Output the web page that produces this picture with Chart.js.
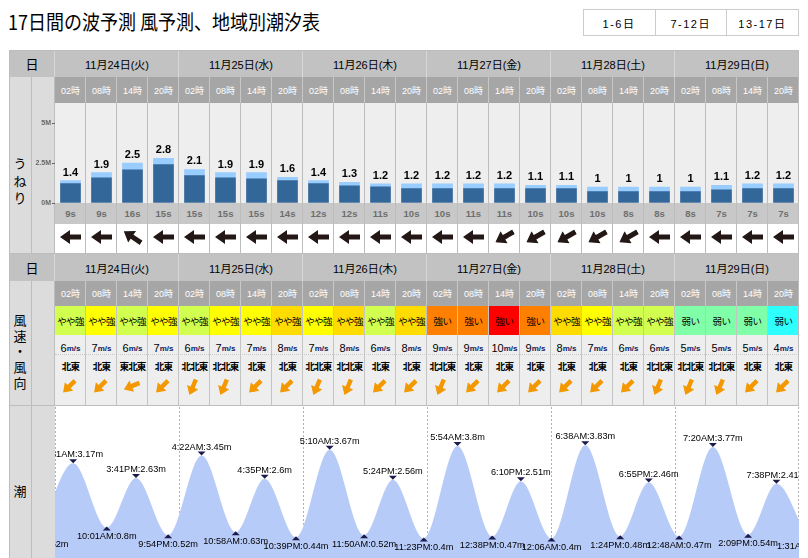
<!DOCTYPE html>
<html>
<head>
<meta charset="utf-8">
<script src="https://cdn.jsdelivr.net/npm/chart.js@4.4.0/dist/chart.umd.min.js"></script>
<style>
body { margin: 0; background: #fff; }
#page { position: relative; width: 808px; height: 558px; overflow: hidden; font-family: "Liberation Sans", "Noto Sans CJK JP", sans-serif; color: #000; }
.a { position: absolute; box-sizing: border-box; }
.c { display: flex; align-items: center; justify-content: center; white-space: nowrap; }
canvas { position: absolute; }
</style>
</head>
<body>
<div id="page">
  <canvas id="wave" width="768" height="112" style="left:31px;top:98px;width:768px;height:112px;z-index:3"></canvas>
  <canvas id="tide" width="744" height="151" style="left:55px;top:407px;width:744px;height:151px;z-index:3"></canvas>
</div>
<script>
// --- data ---
const dayLabels = ['11月24日(火)', '11月25日(水)', '11月26日(木)', '11月27日(金)', '11月28日(土)', '11月29日(日)'];
const hourLabels = ['02時', '08時', '14時', '20時'];
const tabLabels = ['1-6日', '7-12日', '13-17日'];

// うねり (m): total height and the darker (swell) part
const waveHeight = [1.4, 1.9, 2.5, 2.8, 2.1, 1.9, 1.9, 1.6, 1.4, 1.3, 1.2, 1.2, 1.2, 1.2, 1.2, 1.1, 1.1, 1, 1, 1, 1, 1.1, 1.2, 1.2];
const swellPart = [1.21, 1.58, 2.08, 2.4, 1.71, 1.58, 1.52, 1.4, 1.21, 1.08, 1.02, 0.9, 0.9, 0.9, 0.9, 0.9, 0.9, 0.71, 0.71, 0.71, 0.71, 0.83, 0.9, 0.9];
const wavePeriod = [9, 9, 16, 15, 15, 15, 15, 14, 12, 12, 11, 10, 10, 11, 11, 10, 10, 10, 8, 8, 8, 7, 7, 7];
// direction the swell comes from (degrees, 0 = north)
const swellFrom = [90, 90, 124, 90, 90, 90, 90, 90, 90, 90, 90, 90, 90, 90, 60, 60, 60, 60, 60, 90, 90, 90, 90, 90];
const waveTicks = [0, 2.5, 5];

// 風
const windLevel = ['やや強', 'やや強', 'やや強', 'やや強', 'やや強', 'やや強', 'やや強', 'やや強', 'やや強', 'やや強', 'やや強', 'やや強',
                   '強い', '強い', '強い', '強い', 'やや強', 'やや強', 'やや強', 'やや強', '弱い', '弱い', '弱い', '弱い'];
const windSpeed = [6, 7, 6, 7, 6, 7, 7, 8, 7, 8, 6, 8, 9, 9, 10, 9, 8, 7, 6, 6, 5, 5, 5, 4];
const windDir = ['北東', '北東', '東北東', '北東', '北北東', '北北東', '北東', '北東', '北北東', '北北東', '北東', '北東',
                 '北北東', '北東', '北東', '北東', '北東', '北東', '北東', '北北東', '北北東', '北北東', '北東', '北東'];

// 潮汐: day offset from 11/24, clock time, level (m)
const tideDay = [-1, 0, 0, 0, 0, 1, 1, 1, 1, 2, 2, 2, 2, 3, 3, 3, 4, 4, 4, 4, 5, 5, 5, 5, 6];
const tideClock = ['8:50PM', '3:31AM', '10:01AM', '3:41PM', '9:54PM', '4:22AM', '10:58AM', '4:35PM', '10:39PM', '5:10AM', '11:50AM', '5:24PM', '11:23PM',
                   '5:54AM', '12:38PM', '6:10PM', '12:06AM', '6:38AM', '1:24PM', '6:55PM', '12:48AM', '7:20AM', '2:09PM', '7:38PM', '1:31AM'];
const tideLevel = [0.52, 3.17, 0.8, 2.63, 0.52, 3.45, 0.63, 2.6, 0.44, 3.67, 0.52, 2.56, 0.4, 3.8, 0.47, 2.51, 0.4, 3.83, 0.48, 2.46, 0.47, 3.77, 0.54, 2.41, 0.45];

// --- styles ---
const speedColor = {4: '#2effff', 5: '#80ffa8', 6: '#d2ff4f', 7: '#ffff00', 8: '#ffdc00', 9: '#ff8000', 10: '#ff0000'};
const dirDeg = {'北北東': 22.5, '北東': 45, '東北東': 67.5};
const LINE = '#bdbdbd';
const XD = 55, CW = 31, N = 24;
const XE = XD + N * CW;

const page = document.getElementById('page');

let box = function (x, y, w, h, css, html) {
    let d = document.createElement('div');
    d.className = 'a';
    d.style.cssText = 'left:' + x + 'px;top:' + y + 'px;width:' + w + 'px;height:' + h + 'px;' + (css || '');
    if (html !== undefined) d.innerHTML = html;
    page.appendChild(d);
    return d;
}

let arrow = function (cx, cy, rot, color, w, h, pts) {
    let d = box(cx - w / 2, cy - h / 2, w, h, 'transform:rotate(' + rot + 'deg)');
    d.innerHTML = '<svg width="' + w + '" height="' + h + '"><polygon points="' + pts + '" fill="' + color + '"/></svg>';
}

let slots = [];
dayLabels.forEach(d => hourLabels.forEach(h => slots.push(d + ' ' + h)));

// title + tabs
box(8, 6, 420, 30, 'font-size:18px;line-height:30px;font-family:"Noto Sans CJK JP";white-space:nowrap;transform:scaleY(1.12);transform-origin:0 50%', '17日間の波予測 風予測、地域別潮汐表');
box(583, 9, 216, 27, 'border:1px solid #cccccc');
tabLabels.forEach((t, i) => {
    let x = 583 + i * 71.7;
    box(x, 9, 72, 27, 'font-size:11px;letter-spacing:1.5px', t).classList.add('c');
    if (i > 0) box(x, 9, 1, 27, 'background:#cccccc');
});

let headerRow = function (y, h) {
    box(9, y, XE - 9, h, 'background:#c2c2c2');
    box(9, y, XD - 9, h, 'font-size:13px;font-family:"Noto Sans CJK JP"', '日').classList.add('c');
    dayLabels.forEach((d, i) => {
        box(XD + i * CW * 4, y, CW * 4, h, 'font-size:11px', d).classList.add('c');
        box(XD + i * CW * 4 - 1, y, 1, h, 'background:#d8d8d8');
    });
}

let hourRow = function (y, h) {
    box(XD, y, XE - XD, h, 'background:#a6a6a6');
    slots.forEach((s, i) => {
        box(XD + i * CW, y, CW, h, 'font-size:9px;color:#fff', hourLabels[i % 4]).classList.add('c');
        if (i > 0) box(XD + i * CW - 1, y, 1, h, 'background:#c8c8c8');
    });
}

// ---- うねり block ----
headerRow(50, 27);
box(9, 77, XD - 9, 176, 'background:#dcdcdc');
hourRow(77, 26);
box(XD, 103, XE - XD, 100, 'background:#eeeeee');
box(XD, 203, XE - XD, 21, 'background:#c8c8c8');
wavePeriod.forEach((p, i) => {
    box(XD + i * CW, 203, CW, 21, 'font-size:9.5px;font-weight:bold;color:#6e6e6e', p + 's').classList.add('c');
    let rot = swellFrom[i] + 90;
    arrow(XD + i * CW + 15, 237, rot, '#231815', 21, 14, '0,4.5 11,4.5 11,0 21,7 11,14 11,9.5 0,9.5');
});
for (let i = 1; i < N; i++) box(XD + i * CW - 1, 103, 1, 150, 'background:' + LINE);
box(31, 77, 1, 176, 'background:' + LINE);
box(54, 77, 1, 176, 'background:' + LINE);
box(9, 154, 22, 53, 'font-size:13px;line-height:17.5px;text-align:center;font-family:"Noto Sans CJK JP"', 'う<br>ね<br>り');
box(9, 253, XE - 9, 1, 'background:' + LINE);

// ---- 風 block ----
headerRow(254, 27);
box(9, 281, XD - 9, 124, 'background:#dcdcdc');
hourRow(281, 25);
box(XD, 335, XE - XD, 70, 'background:#eeeeee');
box(XD, 354, XE - XD, 1, 'border-top:1px dotted #c8c8c8');
windSpeed.forEach((v, i) => {
    let x = XD + i * CW;
    box(x, 306, CW, 29, 'background:' + speedColor[v] + ';font-size:9.5px;letter-spacing:-0.6px;font-family:"Noto Sans CJK JP"', windLevel[i]).classList.add('c');
    box(x, 339, CW, 18, 'font-size:11px', v + '<span style="font-size:8px;font-weight:bold;color:#102060">m/s</span>').classList.add('c');
    box(x, 357, CW, 18, 'font-size:9.5px;font-weight:bold;letter-spacing:-0.8px;font-family:"Noto Sans CJK JP"', windDir[i]).classList.add('c');
    arrow(x + 15, 388, dirDeg[windDir[i]] + 90, '#f39800', 17, 12, '0,3.8 8.5,3.8 8.5,0 17,6 8.5,12 8.5,8.2 0,8.2');
});
for (let i = 1; i < N; i++) box(XD + i * CW - 1, 306, 1, 99, 'background:#c4c4c4');
box(31, 281, 1, 124, 'background:' + LINE);
box(54, 281, 1, 124, 'background:' + LINE);
box(9, 312, 22, 79, 'font-size:13px;line-height:15.7px;text-align:center;font-family:"Noto Sans CJK JP"', '風<br>速<br>・<br>風<br>向');
box(9, 405, XE - 9, 1, 'background:' + LINE);

// ---- 潮 block ----
box(9, 406, XD - 9, 152, 'background:#dcdcdc');
box(31, 406, 1, 152, 'background:' + LINE);
box(9, 482, 22, 18, 'font-size:13px;line-height:18px;text-align:center;font-family:"Noto Sans CJK JP"', '潮');

// outer frame
box(9, 50, XE - 9, 1, 'background:' + LINE);
box(9, 50, 1, 508, 'background:' + LINE);
box(XE - 1, 50, 1, 356, 'background:' + LINE);

// ---- wave chart ----
const barLabels = {
    id: 'barLabels',
    afterDatasetsDraw(chart) {
        const ctx = chart.ctx;
        const meta = chart.getDatasetMeta(1);
        ctx.save();
        ctx.font = 'bold 11px "Liberation Sans"';
        ctx.textAlign = 'center';
        ctx.fillStyle = '#000';
        meta.data.forEach((bar, i) => {
            ctx.fillText(String(waveHeight[i]), bar.x, bar.y - 5);
        });
        ctx.restore();
    }
};

new Chart(document.getElementById('wave'), {
    type: 'bar',
    data: {
        labels: slots,
        datasets: [
            {data: swellPart, backgroundColor: '#336699', barThickness: 20},
            {data: waveHeight.map((v, i) => +(v - swellPart[i]).toFixed(2)), backgroundColor: '#99ccff', barThickness: 20}
        ]
    },
    options: {
        responsive: false,
        animation: false,
        layout: {padding: {top: 5, bottom: 7, left: 0, right: 0}},
        plugins: {legend: {display: false}, tooltip: {enabled: false}},
        scales: {
            x: {stacked: true, display: false},
            y: {
                stacked: true,
                min: 0,
                max: 6.25,
                afterFit: s => { s.width = 24; },
                afterBuildTicks: s => { s.ticks = waveTicks.map(v => ({value: v})); },
                ticks: {callback: v => v + 'M', color: '#666', padding: 1, font: {size: 7, weight: 'bold', family: 'Liberation Sans'}},
                grid: {drawOnChartArea: false, tickLength: 3, color: '#666'},
                border: {display: false}
            }
        }
    },
    plugins: [barLabels]
});

// ---- tide chart ----
let clockToHours = function (s) {
    let m = s.match(/(\d+):(\d+)(AM|PM)/);
    let h = parseInt(m[1]) % 12 + (m[3] === 'PM' ? 12 : 0);
    return h + parseInt(m[2]) / 60;
}
const tideHours = tideClock.map((c, i) => tideDay[i] * 24 + clockToHours(c));

let isHigh = function (i) {
    let prev = i > 0 ? tideLevel[i - 1] : -Infinity;
    let next = i < tideLevel.length - 1 ? tideLevel[i + 1] : -Infinity;
    return tideLevel[i] > prev && tideLevel[i] > next || (i === 0 && tideLevel[i] > next) || (i === tideLevel.length - 1 && tideLevel[i] > prev);
}

const tideMarks = {
    id: 'tideMarks',
    beforeDatasetsDraw(chart) {
        const {ctx, chartArea: a, scales: {x}} = chart;
        ctx.save();
        ctx.strokeStyle = '#b0b0b0';
        ctx.lineWidth = 1;
        ctx.setLineDash([2, 2]);
        for (let d = 0; d <= dayLabels.length; d++) {
            let px = Math.min(Math.round(x.getPixelForValue(d * 24)), a.right - 1) + 0.5;
            ctx.beginPath();
            ctx.moveTo(px, a.top);
            ctx.lineTo(px, a.bottom);
            ctx.stroke();
        }
        ctx.restore();
    },
    afterDatasetsDraw(chart) {
        const {ctx, chartArea: a, scales: {x, y}} = chart;
        ctx.save();
        ctx.beginPath();
        ctx.rect(a.left, a.top, a.right - a.left, a.bottom - a.top);
        ctx.clip();
        ctx.font = '9.2px "Liberation Sans"';
        ctx.textAlign = 'center';
        ctx.textBaseline = 'middle';
        tideHours.forEach((t, i) => {
            let px = x.getPixelForValue(t);
            let py = y.getPixelForValue(tideLevel[i]);
            let high = isHigh(i);
            ctx.fillStyle = '#1b1b4b';
            ctx.beginPath();
            if (high) {
                ctx.moveTo(px - 4, py - 4); ctx.lineTo(px + 4, py - 4); ctx.lineTo(px, py);
            } else {
                ctx.moveTo(px, py - 1); ctx.lineTo(px + 4, py + 3); ctx.lineTo(px - 4, py + 3);
            }
            ctx.fill();
            ctx.fillStyle = '#000';
            ctx.fillText(tideClock[i] + ':' + tideLevel[i] + 'm', px, high ? py - 8.5 : py + 9);
        });
        ctx.restore();
    }
};

new Chart(document.getElementById('tide'), {
    type: 'line',
    data: {
        datasets: [{
            data: tideHours.map((t, i) => ({x: t, y: tideLevel[i]})),
            fill: 'start',
            backgroundColor: '#b7cbf8',
            borderWidth: 0,
            pointRadius: 0,
            cubicInterpolationMode: 'monotone'
        }]
    },
    options: {
        responsive: false,
        animation: false,
        layout: {padding: 0},
        plugins: {legend: {display: false}, tooltip: {enabled: false}},
        scales: {
            x: {type: 'linear', min: 0, max: 144, display: false},
            y: {min: -0.32, max: 5.24, display: false}
        }
    },
    plugins: [tideMarks]
});
</script>
</body>
</html>
